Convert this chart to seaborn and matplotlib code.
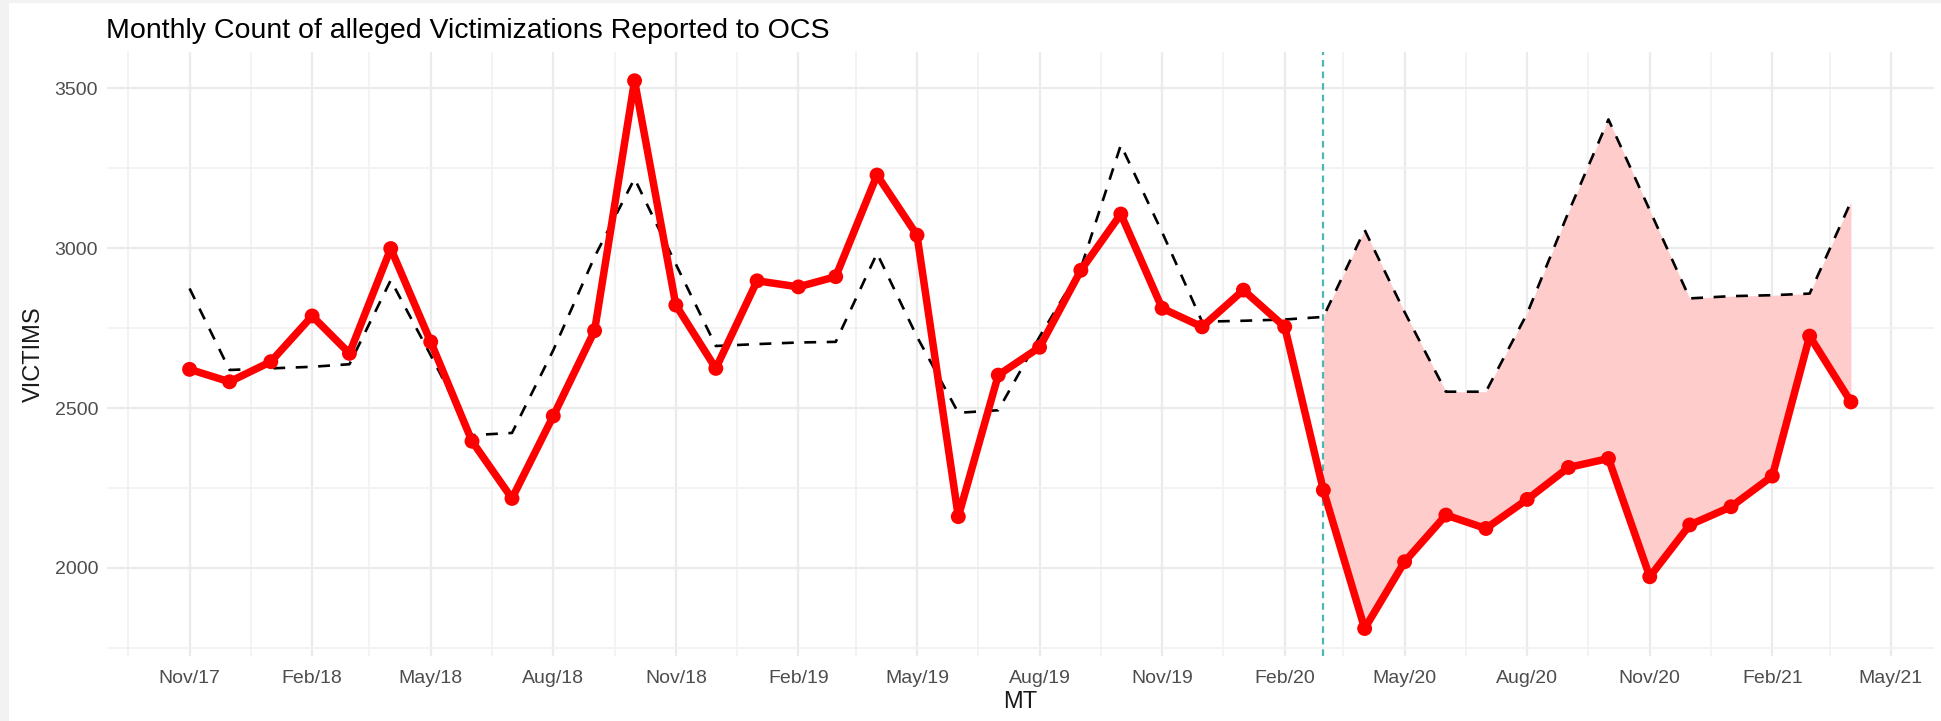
import matplotlib
matplotlib.use("Agg")
import matplotlib.pyplot as plt
import matplotlib.dates as mdates
from matplotlib.patches import Rectangle
import numpy as np
import pandas as pd
import seaborn as sns

# ── Data ─────────────────────────────────────────────────────────────────────
MONTHS = pd.date_range("2017-11-01", "2021-04-01", freq="MS")

VICTIMS = [
    2621, 2582,
    2645, 2788, 2671, 2999, 2707, 2396, 2217, 2475, 2742, 3524, 2822, 2624,
    2898, 2879, 2911, 3229, 3041, 2160, 2603, 2690, 2931, 3107, 2812, 2754,
    2869, 2754, 2243, 1810, 2019, 2165, 2123, 2214, 2314, 2342, 1972, 2134,
    2191, 2287, 2725, 2519,
]

EXPECTED = [
    2874, 2619,
    2624, 2629, 2637, 2900, 2665, 2415, 2422, 2681, 2973, 3218, 2950, 2694,
    2700, 2705, 2707, 2984, 2723, 2485, 2493, 2723, 2938, 3323, 3050, 2770,
    2773, 2777, 2785, 3057, 2800, 2551, 2551, 2796, 3113, 3403, 3119, 2843,
    2850, 2853, 2858, 3145,
]

CUTOFF = pd.Timestamp("2020-03-01")
TITLE = "Monthly Count of alleged Victimizations Reported to OCS"

df = pd.DataFrame({"MT": MONTHS, "VICTIMS": VICTIMS, "EXPECTED": EXPECTED})
post = df[df["MT"] >= CUTOFF]

# ── Style ────────────────────────────────────────────────────────────────────
sns.set_theme(style="white")
plt.rcParams["font.family"] = ["Liberation Sans", "DejaVu Sans"]

W, H = 1941, 721
fig = plt.figure(figsize=(W / 100, H / 100), dpi=100, facecolor="#F2F2F2")
fig.patches.append(Rectangle((9 / W, 0), 1, 1 - 3 / H, transform=fig.transFigure,
                             facecolor="white", edgecolor="none", zorder=-10))
ax = fig.add_axes([106.5 / W, 1 - 656 / H, (1934 - 106.5) / W, (656 - 52) / H])
ax.set_facecolor("none")

# ── Marks ────────────────────────────────────────────────────────────────────
ax.fill_between(post["MT"], post["VICTIMS"], post["EXPECTED"],
                color="#FFCCCC", linewidth=0, zorder=1)
ax.axvline(CUTOFF, color="#4FB5B5", linestyle=(0, (3, 2.2)), linewidth=1.6, zorder=2)
sns.lineplot(data=df, x="MT", y="EXPECTED", ax=ax, color="black",
             linewidth=1.9, linestyle=(0, (4.5, 4)), zorder=3)
sns.lineplot(data=df, x="MT", y="VICTIMS", ax=ax, color="red",
             linewidth=5.4, zorder=4)
sns.scatterplot(data=df, x="MT", y="VICTIMS", ax=ax, color="red",
                s=115, edgecolor="none", zorder=5)

# ── Axes (ggplot-style 5% expansion) ─────────────────────────────────────────
span = MONTHS[-1] - MONTHS[0]
ax.set_xlim(MONTHS[0] - span * 0.05, MONTHS[-1] + span * 0.05)
ax.set_ylim(1724, 3614)

major_x = pd.date_range("2017-11-01", "2021-05-01", freq="3MS")
minor_x = [d - pd.Timedelta(days=46) for d in major_x]
ax.set_xticks(major_x)
ax.set_xticks(minor_x, minor=True)
ax.xaxis.set_major_formatter(mdates.DateFormatter("%b/%y"))
ax.set_yticks([2000, 2500, 3000, 3500])
ax.set_yticks([1750, 2250, 2750, 3250], minor=True)

ax.grid(which="major", color="#EBEBEB", linewidth=1.6, zorder=0)
ax.grid(which="minor", color="#F2F2F2", linewidth=1.3, zorder=0)
ax.set_axisbelow(True)
for s in ax.spines.values():
    s.set_visible(False)
ax.tick_params(which="both", length=0, labelsize=14, labelcolor="#4D4D4D")
ax.tick_params(axis="x", pad=10)
ax.tick_params(axis="y", pad=6)

ax.set_xlabel("MT", fontsize=17, color="#1A1A1A", labelpad=3)
ax.set_ylabel("VICTIMS", fontsize=17, color="#1A1A1A", labelpad=7)
ax.set_title(TITLE, fontsize=20.5, color="black", loc="left", pad=10)

fig.savefig("out.png", dpi=100, facecolor=fig.get_facecolor())
